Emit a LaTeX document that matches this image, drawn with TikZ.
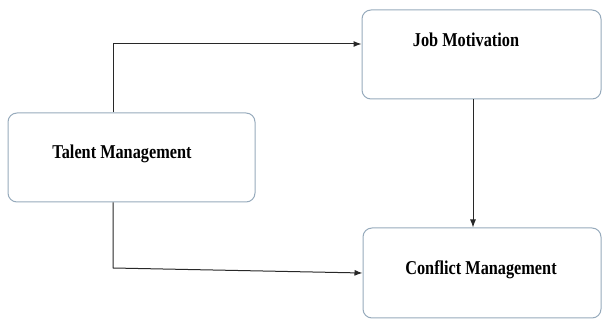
\documentclass[tikz,border=0pt]{standalone}
\usepackage{fontspec}
\setmainfont{Liberation Serif}
\usetikzlibrary{arrows.meta}
\definecolor{boxgray}{RGB}{150,170,188}
\definecolor{linegray}{RGB}{40,40,40}
\begin{document}
\begin{tikzpicture}[x=1pt,y=-1pt,>={Latex[length=8pt,width=6pt]},
  box/.style={draw=boxgray,line width=1pt,rounded corners=9pt,inner sep=0pt,minimum height=89pt},
  lbl/.style={anchor=base,inner sep=0pt,xscale=0.83,transform shape,font=\fontsize{19.6}{22}\selectfont\bfseries},
  conn/.style={->,draw=linegray,line width=1pt}]
\useasboundingbox (0,0) rectangle (603,320);
% boxes
\node[box,minimum width=247pt] (tm) at (131.5,157.5) {};
\node[box,minimum width=239pt] (jm) at (481.5,54.5) {};
\node[box,minimum width=238pt,minimum height=90pt] (cm) at (482,273) {};
% texts
\node[lbl] (tmtext) at (122,158.3) {Talent Management};
\node[lbl] (jmtext) at (466,47) {Job Motivation};
\node[lbl] (cmtext) at (481,275) {Conflict Management};
% arrows
\coordinate (tt) at (113,44);
\coordinate (tb) at (113,268);
\coordinate (vx) at (473,0);
\draw[conn] (tm.north -| tt) |- (jm.west |- tt);
\draw[conn] (tm.south -| tb) -- (tb) -- (cm.west);
\draw[conn] (jm.south -| vx) -- (cm.north -| vx);
\end{tikzpicture}
\end{document}
